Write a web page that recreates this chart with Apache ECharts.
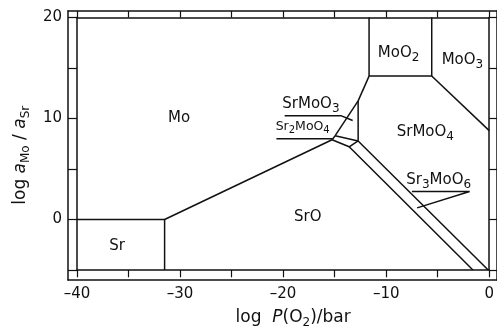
<!DOCTYPE html>
<html>
<head>
<meta charset="utf-8">
<script src="https://cdn.jsdelivr.net/npm/echarts@6/dist/echarts.min.js"></script>
<style>
  html, body { margin: 0; padding: 0; background: #fff; }
  #chart { width: 497px; height: 334px; }
</style>
</head>
<body>
<div id="chart"></div>
<script>
// phase boundaries: [log P(O2), log aMo/aSr]
const srEdge = [[-40, 0], [-31.5, 0], [-31.5, -5]];
const moSrO = [[-31.5, 0], [-15.25, 7.9]];
const moSrMoO3 = [[-12.72, 11.75], [-14.95, 8.3]];
const sr2MoO4Top = [[-14.95, 8.3], [-12.72, 7.78]];
const sr2MoO4Bottom = [[-15.25, 7.9], [-13.59, 7.2], [-12.72, 7.78]];
const sr2MoO4Left = [[-15.25, 7.9], [-14.95, 8.3]];
const srMoO3Right = [[-12.72, 11.75], [-12.72, 7.78]];
const moSrMoO4 = [[-11.66, 14.2], [-12.72, 11.75]];
const moO2Box = [[-11.66, 20], [-11.66, 14.2], [-5.58, 14.2], [-5.58, 20]];
const moO3SrMoO4 = [[-5.58, 14.2], [0, 8.8]];
const sr3MoO6Left = [[-13.59, 7.2], [-1.58, -5]];
const sr3MoO6Right = [[-12.72, 7.78], [-0.1, -5]];

// underlines and pointers of the small labels
const srMoO3Pointer = [[-19.85, 10.28], [-14.4, 10.28], [-13.25, 9.8]];
const sr2MoO4Pointer = [[-20.65, 8.0], [-15.25, 8.0]];
const sr3MoO6Pointer = [[-7.5, 2.78], [-1.9, 2.78], [-7.0, 1.15]];

// region names and where they sit
const labelPos = [[-30.1, 10.0], [-8.8, 16.5], [-2.6, 15.8], [-17.3, 11.45], [-18.1, 9.2],
                  [-6.2, 8.7], [-17.6, 0.2], [-36.1, -2.6], [-4.9, 3.9]];
const labelText = ['Mo', 'MoO{s|2}', 'MoO{s|3}', 'SrMoO{s|3}', '{m|Sr}{ms|2}{m|MoO}{ms|4}',
                   'SrMoO{s|4}', 'SrO', 'Sr', 'Sr{s|3}MoO{s|6}'];

// axis ticks
const xMin = -40, xMax = 0, xStep = 5, xLabelEvery = 10;
const yMin = -5, yMax = 20, yStep = 5, yLabelEvery = 10;

const ink = '#111';
const font = 'DejaVu Sans';

const boundaries = [srEdge, moSrO, moSrMoO3, sr2MoO4Top, sr2MoO4Bottom, sr2MoO4Left, srMoO3Right,
  moSrMoO4, moO2Box, moO3SrMoO4, sr3MoO6Left, sr3MoO6Right, srMoO3Pointer, sr2MoO4Pointer, sr3MoO6Pointer];

const rich = {
  s: { fontSize: 12, padding: [10, 0, 0, 0], color: ink, fontFamily: font },
  m: { fontSize: 12.5, color: ink, fontFamily: font },
  ms: { fontSize: 10, padding: [8, 0, 0, 0], color: ink, fontFamily: font },
  i: { fontSize: 17, fontStyle: 'italic', color: ink, fontFamily: font },
  n: { fontSize: 12, padding: [11, 0, 0, 0], color: ink, fontFamily: font }
};

const chart = echarts.init(document.getElementById('chart'));

const frameLine = { show: true, onZero: false, lineStyle: { color: ink, width: 1.5 } };
const dash = v => String(v).replace('-', '\u2013');

const innerX = (pos, tickLen, labels) => ({
  type: 'value', gridIndex: 0, position: pos, min: xMin, max: xMax, interval: xStep,
  axisLine: frameLine,
  axisTick: { show: true, inside: false, length: tickLen, lineStyle: { color: ink, width: 1.2 } },
  axisLabel: labels ? {
    show: true, margin: 17, fontSize: 15, color: ink, fontFamily: font,
    formatter: v => (v % xLabelEvery === 0 ? dash(v) : '')
  } : { show: false },
  splitLine: { show: false }
});
const innerY = (pos, tickLen, labels) => ({
  type: 'value', gridIndex: 0, position: pos, min: yMin, max: yMax, interval: yStep,
  axisLine: frameLine,
  axisTick: { show: true, inside: false, length: tickLen, lineStyle: { color: ink, width: 1.2 } },
  axisLabel: labels ? {
    show: true, margin: 15, fontSize: 15, color: ink, fontFamily: font,
    formatter: v => (v % yLabelEvery === 0 ? dash(v) : '')
  } : { show: false },
  splitLine: { show: false }
});
const outer = pos => ({
  type: 'value', gridIndex: 1, position: pos, min: 0, max: 1,
  axisLine: frameLine, axisTick: { show: false }, axisLabel: { show: false }, splitLine: { show: false }
});

const xBottom = innerX('bottom', 7.3, true);
xBottom.name = 'log  {i|P}(O{n|2})/bar';
xBottom.nameLocation = 'middle';
xBottom.nameGap = 36;
xBottom.nameTextStyle = { fontSize: 17, color: ink, fontFamily: font, padding: [0, 0, 0, 20], rich };

const yLeft = innerY('left', 9, true);
yLeft.name = 'log {i|a}{n|Mo} / {i|a}{n|Sr}';
yLeft.nameLocation = 'middle';
yLeft.nameGap = 44;
yLeft.nameTextStyle = { fontSize: 17, color: ink, fontFamily: font, padding: [0, 23, 0, 0], rich };

const option = {
  animation: false,
  backgroundColor: '#fff',
  grid: [
    { left: 77, right: 4, top: 17.5, bottom: 61.3 },
    { left: 68, right: -10, top: 11, bottom: 54 }
  ],
  xAxis: [xBottom, innerX('top', 6.5, false), outer('bottom'), outer('top')],
  yAxis: [yLeft, innerY('right', 10, false), outer('left'), outer('right')],
  series: boundaries.map(pts => ({
    type: 'line', xAxisIndex: 0, yAxisIndex: 0, data: pts, symbol: 'none', silent: true,
    lineStyle: { color: ink, width: 1.5 }
  })).concat([{
    type: 'scatter', xAxisIndex: 0, yAxisIndex: 0, symbolSize: 0, silent: true,
    itemStyle: { opacity: 1, color: ink },
    data: labelPos.map((p, i) => [p[0], p[1], labelText[i]]),
    label: {
      show: true, position: 'inside', fontSize: 15, color: ink, fontFamily: font, opacity: 1,
      formatter: p => p.data[2], rich
    }
  }])
};

chart.setOption(option);
</script>
</body>
</html>
